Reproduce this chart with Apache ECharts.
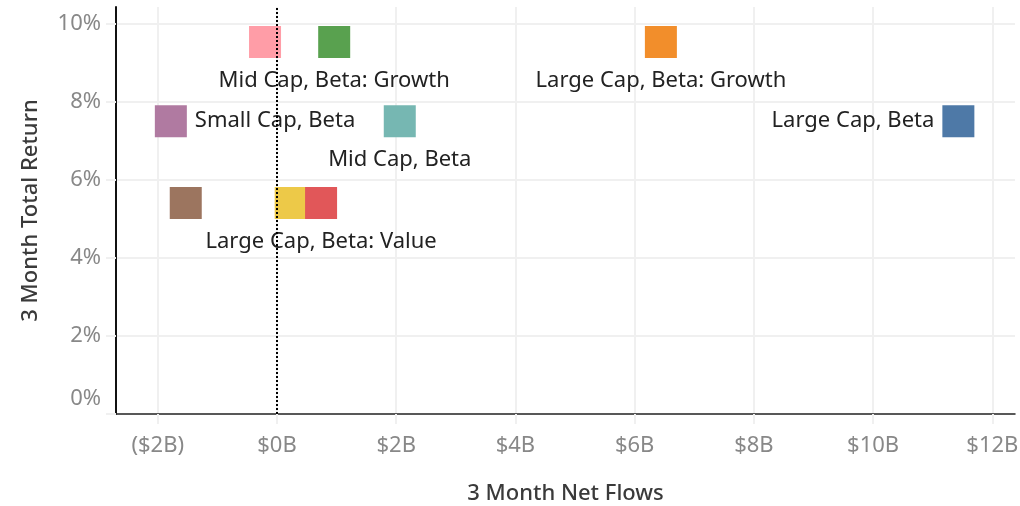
<!DOCTYPE html>
<html>
<head>
<meta charset="utf-8">
<script src="https://cdn.jsdelivr.net/npm/echarts@6/dist/echarts.min.js"></script>
<style>
html,body{margin:0;padding:0;background:#fff;}
#chart{width:1020px;height:506px;}
</style>
</head>
<body>
<div id="chart"></div>
<script>
// Data (drawing order)
const names = [
  'Small Cap, Beta: Growth',
  'Mid Cap, Beta: Growth',
  'Large Cap, Beta: Growth',
  'Small Cap, Beta',
  'Mid Cap, Beta',
  'Large Cap, Beta',
  'Small Cap, Beta: Value',
  'Mid Cap, Beta: Value',
  'Large Cap, Beta: Value'
];
const netFlowsB = [-0.20, 0.96, 6.44, -1.78, 2.06, 11.43, -1.53, 0.23, 0.74];
const totalReturnPct = [9.54, 9.54, 9.54, 7.51, 7.51, 7.51, 5.41, 5.41, 5.41];
const colors = ['#ff9da7', '#59a14f', '#f28e2b', '#b07aa1', '#76b7b2', '#4e79a7', '#9c755f', '#edc948', '#e15759'];
const xTickLabels = ['($2B)', '$0B', '$2B', '$4B', '$6B', '$8B', '$10B', '$12B'];
const yTickLabels = ['0%', '2%', '4%', '6%', '8%', '10%'];

// label placement (style config)
const labelPos = {
  'Mid Cap, Beta: Growth': 'bottom',
  'Large Cap, Beta: Growth': 'bottom',
  'Small Cap, Beta': 'right',
  'Mid Cap, Beta': 'bottom',
  'Large Cap, Beta': 'left',
  'Large Cap, Beta: Value': 'bottom'
};

const FONT = '"Noto Sans", sans-serif';
const FS = 22;
const xTickMap = {}; [-2,0,2,4,6,8,10,12].forEach((v,i)=>xTickMap[v]=xTickLabels[i]);
const yTickMap = {}; [0,2,4,6,8,10].forEach((v,i)=>yTickMap[v]=yTickLabels[i]);

const data = names.map((n, i) => {
  const pos = labelPos[n];
  return {
    name: n,
    value: [netFlowsB[i], totalReturnPct[i]],
    itemStyle: { color: colors[i], opacity: 1 },
    label: pos ? { show: true, position: pos, distance: pos === 'bottom' ? 12 : 8 } : { show: false }
  };
});

const chart = echarts.init(document.getElementById('chart'), null, { renderer: 'canvas' });
chart.setOption({
  animation: false,
  grid: { left: 116, right: 5, top: 7, bottom: 92, containLabel: false, outerBoundsMode: 'none' },
  xAxis: {
    type: 'value',
    min: -2.7, max: 12.38,
    minInterval: 2, maxInterval: 2,
    name: '3 Month Net Flows',
    nameLocation: 'middle',
    nameGap: 69,
    nameTextStyle: { fontFamily: FONT, fontSize: FS, color: '#3a3a3a', fontWeight: 500 },
    axisLine: { show: true, onZero: false, lineStyle: { color: '#222', width: 1.5 } },
    axisTick: { show: true, length: 10, lineStyle: { color: '#f0f0f0', width: 2 } },
    splitLine: { show: true, showMinLine: false, showMaxLine: false, lineStyle: { color: '#f0f0f0', width: 2 } },
    axisLabel: {
      showMinLabel: false, showMaxLabel: false,
      margin: 21,
      fontFamily: FONT, fontSize: FS, color: '#888',
      formatter: v => xTickMap[v] !== undefined ? xTickMap[v] : ''
    }
  },
  yAxis: {
    type: 'value',
    min: 0, max: 10.44,
    minInterval: 2, maxInterval: 2,
    name: '3 Month Total Return',
    nameLocation: 'middle',
    nameGap: 74,
    nameRotate: 90,
    nameTextStyle: { fontFamily: FONT, fontSize: FS, color: '#3a3a3a', fontWeight: 500 },
    axisLine: { show: true, onZero: false, lineStyle: { color: '#111', width: 2 } },
    axisTick: { show: true, length: 10, lineStyle: { color: '#f0f0f0', width: 2 } },
    splitLine: { show: true, showMinLine: false, showMaxLine: false, lineStyle: { color: '#f0f0f0', width: 2 } },
    axisLabel: {
      showMaxLabel: false,
      margin: 15,
      fontFamily: FONT, fontSize: FS, color: '#888',
      formatter: v => {
        const t = yTickMap[v];
        if (t === undefined) return '';
        return v === 0 ? '{z|' + t + '}' : t;
      },
      rich: { z: { fontFamily: FONT, fontSize: FS, color: '#888', padding: [0, 0, 30, 0] } }
    }
  },
  series: [
    {
      type: 'scatter',
      symbol: 'rect',
      symbolSize: 32,
      z: 2,
      data: data,
      label: {
        formatter: p => p.name,
        fontFamily: FONT, fontSize: FS, color: '#222'
      },
      labelLayout: { hideOverlap: false },
      emphasis: { disabled: true }
    },
    {
      type: 'line',
      data: [],
      z: 5,
      silent: true,
      markLine: {
        silent: true,
        symbol: ['none', 'none'],
        label: { show: false },
        lineStyle: { color: '#000', width: 2, type: [2, 2], opacity: 1 },
        data: [{ xAxis: 0 }]
      }
    }
  ]
});
</script>
</body>
</html>
